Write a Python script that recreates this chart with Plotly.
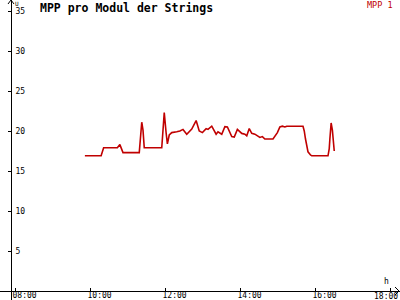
import plotly.graph_objects as go

DAY = "2024-06-01"
times = ["09:51", "10:17", "10:21", "10:43", "10:47", "10:52", "11:18", "11:20", "11:22", "11:24",
         "11:26", "11:54", "11:56", "11:58", "12:01", "12:03", "12:06", "12:10", "12:18", "12:23",
         "12:28", "12:34", "12:42", "12:49", "12:54", "12:59", "13:05", "13:08", "13:14", "13:21",
         "13:24", "13:30", "13:35", "13:39", "13:46", "13:50", "13:55", "13:59", "14:02", "14:07",
         "14:10", "14:14", "14:18", "14:23", "14:27", "14:31", "14:35", "14:39", "14:52", "14:55",
         "14:59", "15:03", "15:07", "15:11", "15:14", "15:40", "15:42", "15:44", "15:46", "15:48",
         "15:52", "15:54", "16:20", "16:22", "16:23", "16:25", "16:27", "16:28", "16:30"]
mpp1 = [16.9, 16.9, 17.9, 17.9, 18.3, 17.3, 17.3, 19.1, 21.1, 20.1,
        17.9, 17.9, 20.75, 22.3, 19.75, 18.4, 19.5, 19.8, 19.9, 20.0,
        20.2, 19.6, 20.25, 21.3, 20.0, 19.8, 20.3, 20.2, 20.6, 19.6,
        19.9, 19.6, 20.55, 20.5, 19.3, 19.25, 20.2, 19.9, 19.7, 19.6,
        19.4, 20.3, 19.7, 19.6, 19.4, 19.2, 19.3, 19.0, 19.0, 19.3,
        19.8, 20.5, 20.6, 20.5, 20.6, 20.6, 20.0, 19.0, 18.0, 17.4,
        17.0, 16.9, 16.9, 17.8, 19.0, 21.0, 20.1, 19.1, 17.5]
x_ticks = ["08:00", "10:00", "12:00", "14:00", "16:00", "18:00"]
y_ticks = [5, 10, 15, 20, 25, 30, 35]
series_name = "MPP 1"
title_text = "MPP pro Modul der Strings"

RED = "#c00000"
FONT = "DejaVu Sans Mono"

# last tick label sits at the right edge; it is drawn as an annotation so it stays on the page
x_ticktext = x_ticks[:-1] + [""]

fig = go.Figure()
fig.add_trace(go.Scatter(
    x=[f"{DAY} {t}" for t in times], y=mpp1, mode="lines", name=series_name,
    line=dict(color=RED, width=1.6), showlegend=False, hoverinfo="skip"))

fig.update_layout(
    width=400, height=300,
    margin=dict(l=0, r=0, t=0, b=0),
    paper_bgcolor="white", plot_bgcolor="white",
    title=dict(text=title_text, x=40/400, xanchor="left", xref="paper",
               y=1 - 8/300, yanchor="middle", yref="paper",
               font=dict(family=FONT, size=11.5, color="black", weight="bold")),
    xaxis=dict(
        type="date",
        range=[f"{DAY} 07:35:12", f"{DAY} 18:15:12"],
        tickvals=[f"{DAY} {t}" for t in x_ticks], ticktext=x_ticktext,
        showgrid=False, zeroline=False,
        showline=True, linecolor="black", linewidth=1,
        anchor="free", position=9/300,
        ticks="inside", ticklen=3, tickcolor="black", tickwidth=1,
        ticklabelposition="outside right", ticklabelshift=-4, ticklabelstandoff=-4,
        ticklabeloverflow="allow",
        tickfont=dict(family=FONT, size=8, color="black"),
    ),
    yaxis=dict(
        range=[-1.125, 36.375],
        tickvals=y_ticks,
        showgrid=False, zeroline=False,
        showline=True, linecolor="black", linewidth=1,
        anchor="free", position=11/400,
        ticks="outside", ticklen=3, tickcolor="black", tickwidth=1,
        ticklabelposition="inside", ticklabelstandoff=2,
        ticklabeloverflow="allow",
        tickfont=dict(family=FONT, size=8, color="black"),
    ),
    shapes=[
        dict(type="path", xref="paper", yref="paper",
             path=f"M {8/400},{1-4/300} L {11/400},1 L {14/400},{1-4/300}",
             line=dict(color="black", width=1)),
        dict(type="path", xref="paper", yref="paper",
             path=f"M {395/400},{1-287/300} L {399/400},{1-291/300} L {395/400},{1-295/300}",
             line=dict(color="black", width=1)),
    ],
    annotations=[
        dict(text=series_name, xref="paper", yref="paper", x=395/400, y=1 - 5/300,
             xanchor="right", yanchor="middle", showarrow=False,
             font=dict(family=FONT, size=8.5, color=RED)),
        dict(text="U", xref="paper", yref="paper", x=13/400, y=1 - 3.5/300,
             xanchor="left", yanchor="middle", showarrow=False,
             font=dict(family=FONT, size=6, color="black")),
        dict(text="h", xref="paper", yref="paper", x=386/400, y=1 - 281/300,
             xanchor="center", yanchor="middle", showarrow=False,
             font=dict(family=FONT, size=8, color="black")),
        dict(text=x_ticks[-1], xref="paper", yref="paper", x=1.0, y=1 - 296/300,
             xanchor="right", yanchor="middle", showarrow=False,
             font=dict(family=FONT, size=8, color="black")),
    ],
)

fig.write_html("out.html")
